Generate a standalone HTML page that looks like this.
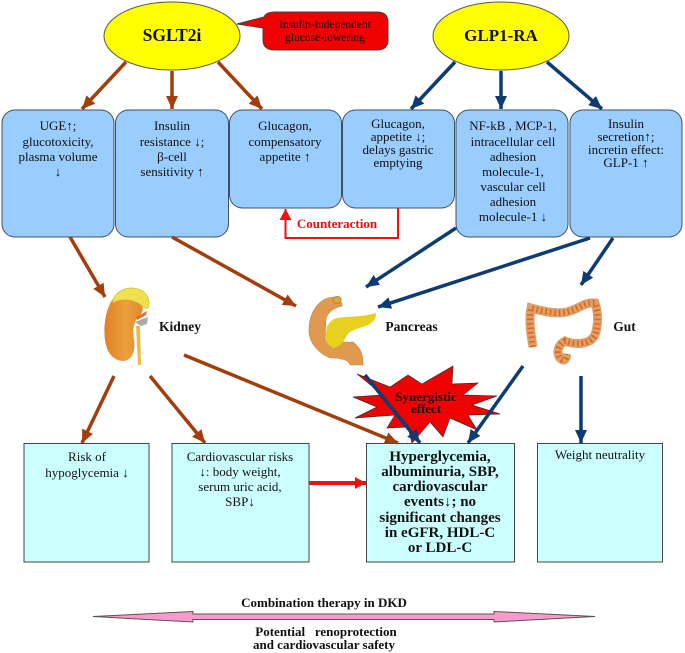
<!DOCTYPE html>
<html><head><meta charset="utf-8"><style>
html,body{margin:0;padding:0;background:#fff}
svg{display:block;filter:blur(.3px)}
text{font-family:"Liberation Serif",serif;text-anchor:middle;fill:#111;font-size:13px}
.b{font-weight:bold}
.s{font-size:13.500px;font-weight:bold}
.h{font-size:15px;font-weight:bold}
</style></head><body>
<svg width="685" height="653" viewBox="0 0 685 653" xmlns="http://www.w3.org/2000/svg">
<defs>
<marker id="br" markerUnits="userSpaceOnUse" markerWidth="14" markerHeight="12" refX="13" refY="6" orient="auto"><path d="M0 0L13 6L0 12z" fill="#a33e0c"/></marker>
<marker id="bl" markerUnits="userSpaceOnUse" markerWidth="14" markerHeight="12" refX="13" refY="6" orient="auto"><path d="M0 0L13 6L0 12z" fill="#0d3b73"/></marker>
<marker id="rd" markerUnits="userSpaceOnUse" markerWidth="12" markerHeight="12" refX="11" refY="6" orient="auto"><path d="M0 0L11 6L0 12z" fill="#f01010"/></marker>
<linearGradient id="kid" x1="0" x2="1" y1="0" y2="0"><stop offset="0" stop-color="#e07f28"/><stop offset=".55" stop-color="#eda03c"/><stop offset="1" stop-color="#e08a30"/></linearGradient>
</defs>

<!-- top ellipses -->
<ellipse cx="172" cy="36" rx="68" ry="34" fill="#ffff00" stroke="#555" stroke-width="1"/>
<ellipse cx="501" cy="36" rx="68" ry="34" fill="#ffff00" stroke="#555" stroke-width="1"/>
<text x="172" y="41" class="b" style="font-size:17.500px">SGLT2i</text>
<text x="501" y="41" class="b" style="font-size:17px">GLP1-RA</text>

<!-- callout -->
<path d="M237 24L264 17Q266 12 275 12L377 12Q388 12 388 22L388 40Q388 50 377 50L275 50Q263 50 263 40L263 28z" fill="#f00000" stroke="#444" stroke-width="1"/>
<text x="325" y="28" style="font-size:11.500px">Insulin-independent</text>
<text x="325" y="41" style="font-size:11.500px">glucose-lowering</text>

<!-- blue boxes -->
<g fill="#99ccff" stroke="#3f4f5f" stroke-width="1">
<rect x="2" y="110" width="112" height="127" rx="13"/>
<rect x="115.500" y="110" width="113" height="127" rx="13"/>
<rect x="229.500" y="110" width="112" height="98" rx="13"/>
<rect x="342.500" y="110" width="112" height="98" rx="13"/>
<rect x="456" y="110" width="112" height="127" rx="13"/>
<rect x="570" y="110" width="112" height="127" rx="13"/>
</g>
<text x="58" y="130">UGE↑;</text><text x="58" y="146">glucotoxicity,</text><text x="58" y="161">plasma volume</text><text x="58" y="176">↓</text>
<text x="172" y="130">Insulin</text><text x="172" y="146">resistance ↓;</text><text x="172" y="161">β-cell</text><text x="172" y="176">sensitivity ↑</text>
<text x="285" y="130">Glucagon,</text><text x="285" y="146">compensatory</text><text x="285" y="161">appetite ↑</text>
<text x="398" y="128">Glucagon,</text><text x="398" y="141">appetite ↓;</text><text x="398" y="154">delays gastric</text><text x="398" y="167">emptying</text>
<text x="513" y="130">NF-kB , MCP-1,</text><text x="513" y="146">intracellular cell</text><text x="513" y="161">adhesion</text><text x="513" y="176">molecule-1,</text><text x="513" y="191">vascular cell</text><text x="513" y="206">adhesion</text><text x="513" y="221">molecule-1 ↓</text>
<text x="626" y="128">Insulin</text><text x="626" y="141">secretion↑;</text><text x="626" y="154">incretin effect:</text><text x="626" y="167">GLP-1 ↑</text>

<!-- counteraction -->
<path d="M398 208V238H285.500V209" fill="none" stroke="#f01010" stroke-width="2" marker-end="url(#rd)"/>
<text x="337" y="228" class="b" style="font-size:13px;fill:#e81010">Counteraction</text>

<!-- top arrows -->
<g fill="none" stroke="#a33e0c" stroke-width="3.500">
<path d="M126 62L82 109" marker-end="url(#br)"/>
<path d="M172 71V109" marker-end="url(#br)"/>
<path d="M218 62L262 109" marker-end="url(#br)"/>
<path d="M70 237L105 297" marker-end="url(#br)"/>
<path d="M172 237L296 306" marker-end="url(#br)"/>
<path d="M114 376L82 443" marker-end="url(#br)"/>
<path d="M150 376L205 443" marker-end="url(#br)"/>
</g>
<g fill="none" stroke="#0d3b73" stroke-width="3.500">
<path d="M455 62L411 109" marker-end="url(#bl)"/>
<path d="M501 71V109" marker-end="url(#bl)"/>
<path d="M547 62L602 109" marker-end="url(#bl)"/>
<path d="M456 228L366 287" marker-end="url(#bl)"/>
<path d="M590 238L378 307" marker-end="url(#bl)"/>
<path d="M613 238L581 285" marker-end="url(#bl)"/>
</g>

<!-- kidney -->
<path d="M112 300C106 310 103 325 105 340C107 354 114 361 124 361C132 360 136 350 134 340C132 330 134 320 140 315C145 310 143 304 136 300C128 296 118 296 112 300z" fill="url(#kid)"/>
<path d="M113 303C112 295 122 288 131 288C142 288 149 294 149 303C149 310 146 310 140 304C132 299 120 298 113 303z" fill="#efe050" stroke="#d4c030" stroke-width=".7"/>
<path d="M135 322L148 317L147 324L141 326z" fill="#aaa"/>
<path d="M136 317L147 311L146 315L137 320z" fill="#e86a30"/>
<path d="M136 326L140 326L141 365L138 365z" fill="#f0b848"/>
<text x="180" y="331" class="s">Kidney</text>

<!-- pancreas -->
<path d="M333 297L342 303L342 306C334 308 327 312 326 320L325 338C330 344 340 342 353 342C360 348 363 352 363 365L350 365C349 360 342 358 330 358C318 353 308 342 309 328C310 310 320 298 333 297z" fill="#e09a50" stroke="#d88040" stroke-width=".6"/>
<path d="M327 327C329 322 333 319 337 318C350 316 362 317 376 313C376 319 373 322 370 324C362 328 354 329 350 332C346 335 345 340 343 342C340 346 336 348 333 348C329 345 325 342 325 337z" fill="#e8d020"/>
<ellipse cx="337" cy="300" rx="4" ry="3.500" fill="#c8b040" stroke="#e07030"/>
<text x="411.500" y="331" class="s">Pancreas</text>

<!-- gut -->
<path d="M533 347C530 330 529 318 531 308C545 312 560 315 570 311C580 308 585 302 595 303C599 315 598 325 595 335C590 345 575 345 565 341C558 345 556 352 560 358C564 362 566 360 567 354" fill="none" stroke="#dca066" stroke-width="9"/>
<path d="M533 347C530 330 529 318 531 308C545 312 560 315 570 311C580 308 585 302 595 303C599 315 598 325 595 335C590 345 575 345 565 341C558 345 556 352 560 358C564 362 566 360 567 354" fill="none" stroke="#e5601e" stroke-width="6" stroke-dasharray="1.500 3"/>
<text x="624.500" y="331" class="s">Gut</text>

<!-- star -->
<path d="M357 374L390 387L408 375L422 384L453 366L452 384L478 383L463 395L497 396L472 405L500 414L468 415L477 430L450 418L443 437L430 422L412 443L408 427L387 428L395 415L355 418L377 407L353 397L383 395z" fill="#f00000" stroke="#333" stroke-width=".7"/>
<text x="426" y="401" class="b" style="font-size:13px">Synergistic</text>
<text x="426" y="413" class="b" style="font-size:13px">effect</text>

<!-- lower boxes -->
<g fill="#ccffff" stroke="#444" stroke-width="1">
<rect x="24" y="443.500" width="125" height="118.500"/>
<rect x="172" y="443.500" width="137" height="118.500"/>
<rect x="366.500" y="443.500" width="148" height="118.500"/>
<rect x="537.500" y="443.500" width="125" height="118.500"/>
</g>
<text x="87" y="461">Risk of</text><text x="87" y="477">hypoglycemia ↓</text>
<text x="240" y="461">Cardiovascular risks</text><text x="240" y="476">↓: body weight,</text><text x="240" y="491">serum uric acid,</text><text x="240" y="506">SBP↓</text>
<text x="440" y="461" class="h">Hyperglycemia,</text><text x="440" y="476" class="h">albuminuria, SBP,</text><text x="440" y="491" class="h">cardiovascular</text><text x="440" y="506" class="h">events↓; no</text><text x="440" y="522" class="h">significant changes</text><text x="440" y="537" class="h">in eGFR, HDL-C</text><text x="440" y="552" class="h">or LDL-C</text>
<text x="600" y="459">Weight neutrality</text>

<!-- lower arrows -->
<path d="M184 355L398 443" fill="none" stroke="#a33e0c" stroke-width="3.500" marker-end="url(#br)"/>
<g fill="none" stroke="#0d3b73" stroke-width="3.500">
<path d="M365 375L420 443" marker-end="url(#bl)"/>
<path d="M523 366L468 443" marker-end="url(#bl)"/>
<path d="M581 376V443" marker-end="url(#bl)"/>
</g>
<path d="M309 483H366" fill="none" stroke="#f01010" stroke-width="4" marker-end="url(#rd)"/>

<!-- bottom -->
<text x="324" y="607" class="b" style="font-size:13px">Combination therapy in DKD</text>
<path d="M93 616.500L193 611.500V614H494V611.500L595 616.500L494 622V619.500H193V622z" fill="#ff99cc" stroke="#555" stroke-width="1"/>
<text x="326" y="636" class="b" style="font-size:13px">Potential &#160;&#160;renoprotection</text>
<text x="324" y="649" class="b" style="font-size:13px">and cardiovascular safety</text>
</svg>
</body></html>
